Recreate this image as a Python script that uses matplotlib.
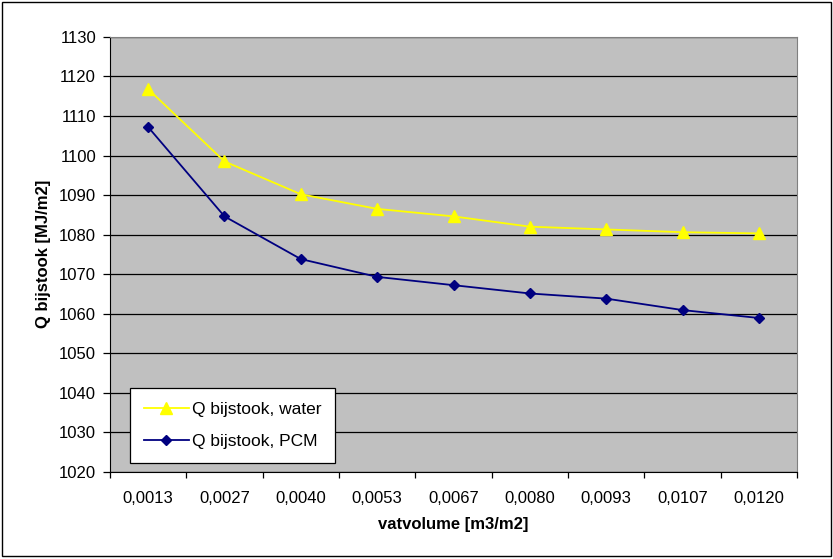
import matplotlib
matplotlib.use("Agg")
import matplotlib.pyplot as plt
from matplotlib.patches import Rectangle

plt.rcParams["font.family"] = ["Liberation Sans", "DejaVu Sans"]

categories = ["0,0013", "0,0027", "0,0040", "0,0053", "0,0067",
              "0,0080", "0,0093", "0,0107", "0,0120"]
q_water = [1116.8, 1098.5, 1090.2, 1086.5, 1084.6, 1082.0, 1081.3, 1080.6, 1080.3]
q_pcm = [1107.2, 1084.6, 1073.8, 1069.3, 1067.2, 1065.1, 1063.8, 1060.9, 1058.9]

fig = plt.figure(figsize=(8.33, 5.59), dpi=100)
ax = fig.add_axes([0.132, 0.156, 0.825, 0.778])
ax.set_facecolor("#C0C0C0")

x = list(range(len(categories)))
ax.plot(x, q_water, color="#FFFF00", lw=1.3, marker="^", ms=8,
        mec="#FFFF00", label="Q bijstook, water", zorder=3)
ax.plot(x, q_pcm, color="#000080", lw=1.3, marker="D", ms=5.5,
        mec="#000080", label="Q bijstook, PCM", zorder=3)

ax.set_xlim(-0.5, len(categories) - 0.5)
ax.set_ylim(1020, 1130)
ax.set_yticks(range(1020, 1131, 10))
ax.yaxis.grid(True, color="black", lw=0.9)
ax.set_axisbelow(True)

ax.set_xticks(x)
ax.set_xticklabels(categories, fontsize=12)
ax.set_xticks([i + 0.5 for i in range(-1, len(categories))], minor=True)
ax.tick_params(axis="x", which="major", length=0, pad=14)
ax.tick_params(axis="x", which="minor", length=4, width=0.9, direction="out")
ax.tick_params(axis="y", labelsize=12, length=5, width=0.9, direction="out", pad=5)

for side in ["top", "right"]:
    ax.spines[side].set_color("#808080")
for side in ["left", "bottom"]:
    ax.spines[side].set_color("black")

ax.set_xlabel("vatvolume [m3/m2]", fontsize=12, fontweight="bold", labelpad=8)
ax.set_ylabel("Q bijstook [MJ/m2]", fontsize=12, fontweight="bold", labelpad=6)

leg = ax.legend(loc="lower left", bbox_to_anchor=(0.029, 0.02), fontsize=12.5,
                frameon=True, fancybox=False, edgecolor="black",
                framealpha=1, borderpad=0.8, labelspacing=1.0,
                handlelength=2.6, handletextpad=0.15, borderaxespad=0)
leg.get_frame().set_linewidth(0.9)

fig.patches.append(Rectangle((0.002, 0.006), 0.995, 0.99, transform=fig.transFigure,
                             fill=False, edgecolor="black", lw=1))

fig.savefig("out.png", dpi=100)
